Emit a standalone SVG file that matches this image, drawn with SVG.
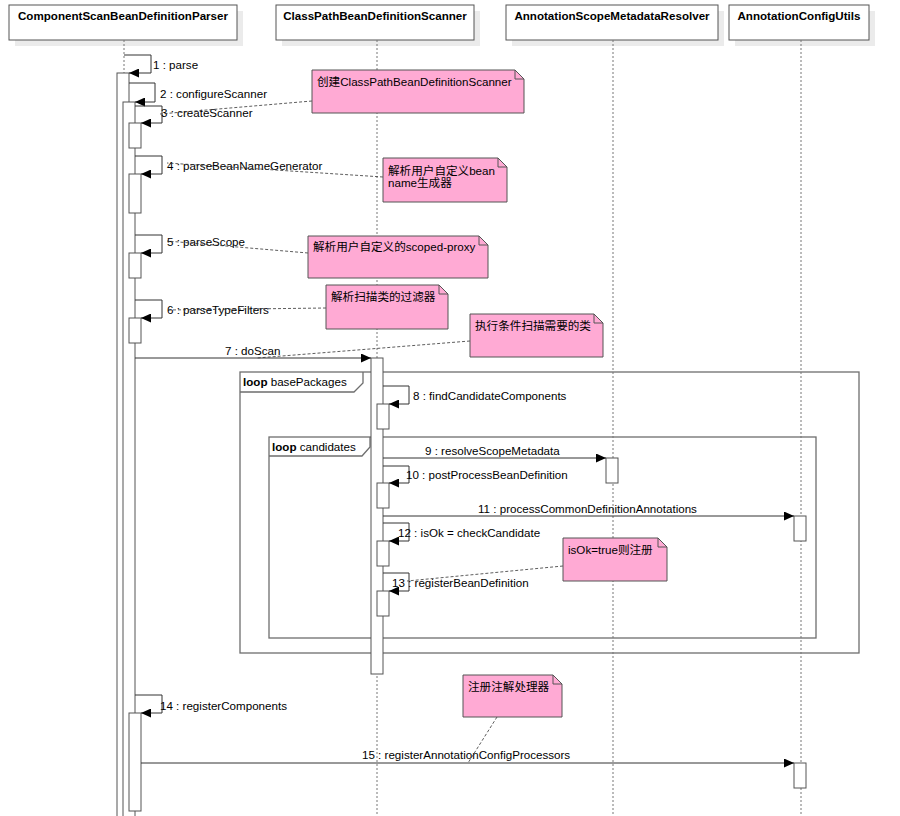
<svg xmlns="http://www.w3.org/2000/svg" width="900" height="816" viewBox="0 0 900 816">
<style>
text{font-family:"Liberation Sans",Arial,"Noto Sans CJK SC",sans-serif;font-size:11.6px;fill:#000}
.hd{font-weight:bold;text-anchor:middle}
.hbox{fill:#fff;stroke:#555;stroke-width:1}
.shadow{fill:#ebebeb}
.life{stroke:#777;stroke-width:1;stroke-dasharray:2,2;fill:none}
.bar{fill:#fff;stroke:#555;stroke-width:1}
.msg{fill:none;stroke:#333;stroke-width:1;marker-end:url(#ah)}
.frame{fill:none;stroke:#6e6e6e;stroke-width:1.3}
.note{fill:#ffaad4;stroke:#555;stroke-width:1}
.fold{fill:none;stroke:#555;stroke-width:1}
.nl{fill:none;stroke:#333;stroke-width:0.8;stroke-dasharray:3,2}
</style>
<defs>
<marker id="ah" markerUnits="userSpaceOnUse" markerWidth="10" markerHeight="9" refX="10" refY="4.5" orient="auto">
<path d="M0,0 L10,4.5 L0,9 z" fill="#000"/>
</marker>
</defs>
<rect width="900" height="816" fill="#fff"/>

<g id="frame-basePackages">
<rect class="frame" x="240" y="372" width="619" height="281"/>
<path class="frame" d="M240,392 H354 L363,383 V372"/>
<text x="243" y="386"><tspan font-weight="bold">loop</tspan> basePackages</text>
</g>
<g id="frame-candidates">
<rect class="frame" x="269" y="437" width="547" height="201"/>
<path class="frame" d="M269,456 H362 L370,447 V437"/>
<text x="272" y="451"><tspan font-weight="bold">loop</tspan> candidates</text>
</g>

<g id="ComponentScanBeanDefinitionParser">
<rect class="shadow" x="15" y="11" width="228" height="35"/>
<rect class="hbox" x="9" y="5" width="228" height="35"/>
<text class="hd" x="123" y="20">ComponentScanBeanDefinitionParser</text>
<line class="life" x1="124" y1="40" x2="124" y2="816"/>
<rect class="bar" x="117" y="73" width="12" height="750"/>
<rect class="bar" x="123" y="102" width="12" height="720"/>
<rect class="bar" x="129" y="123" width="12" height="25"/>
<rect class="bar" x="129" y="174" width="12" height="39"/>
<rect class="bar" x="129" y="253" width="12" height="25"/>
<rect class="bar" x="129" y="318" width="12" height="25"/>
<rect class="bar" x="129" y="713" width="12" height="98"/>
</g>

<g id="ClassPathBeanDefinitionScanner">
<rect class="shadow" x="282" y="11" width="198" height="35"/>
<rect class="hbox" x="276" y="5" width="198" height="35"/>
<text class="hd" x="375" y="20">ClassPathBeanDefinitionScanner</text>
<line class="life" x1="377" y1="40" x2="377" y2="816"/>
<rect class="bar" x="371" y="358" width="12" height="316"/>
<rect class="bar" x="377" y="404" width="12" height="25"/>
<rect class="bar" x="377" y="483" width="12" height="25"/>
<rect class="bar" x="377" y="541" width="12" height="25"/>
<rect class="bar" x="377" y="591" width="12" height="25"/>
</g>

<g id="AnnotationScopeMetadataResolver">
<rect class="shadow" x="512" y="11" width="212" height="35"/>
<rect class="hbox" x="506" y="5" width="212" height="35"/>
<text class="hd" x="612" y="20">AnnotationScopeMetadataResolver</text>
<line class="life" x1="613" y1="40" x2="613" y2="816"/>
<rect class="bar" x="606" y="458" width="12" height="25"/>
</g>

<g id="AnnotationConfigUtils">
<rect class="shadow" x="735" y="11" width="140" height="35"/>
<rect class="hbox" x="729" y="5" width="140" height="35"/>
<text class="hd" x="799" y="20">AnnotationConfigUtils</text>
<line class="life" x1="801" y1="40" x2="801" y2="816"/>
<rect class="bar" x="794" y="516" width="12" height="25"/>
<rect class="bar" x="794" y="763" width="12" height="25"/>
</g>

<g id="connectors">
<path class="msg" d="M124,55 H151 V73 H129"/>
<text x="153" y="69">1 : parse</text>
<path class="msg" d="M129,83 H155 V102 H135"/>
<text x="160" y="98">2 : configureScanner</text>
<path class="msg" d="M135,106 H162 V123 H141"/>
<text x="161" y="117">3 : createScanner</text>
<path class="msg" d="M135,156 H162 V174 H141"/>
<text x="167" y="170">4 : parseBeanNameGenerator</text>
<path class="msg" d="M135,235 H162 V253 H141"/>
<text x="167" y="246">5 : parseScope</text>
<path class="msg" d="M135,300 H162 V318 H141"/>
<text x="167" y="314">6 : parseTypeFilters</text>
<path class="msg" d="M135,358 H371"/>
<text x="225" y="355">7 : doScan</text>
<path class="msg" d="M383,386 H409 V404 H389"/>
<text x="413" y="400">8 : findCandidateComponents</text>
<path class="msg" d="M383,458 H606"/>
<text x="425" y="455">9 : resolveScopeMetadata</text>
<path class="msg" d="M383,466 H409 V483 H389"/>
<text x="406" y="479">10 : postProcessBeanDefinition</text>
<path class="msg" d="M383,516 H794"/>
<text x="478" y="513">11 : processCommonDefinitionAnnotations</text>
<path class="msg" d="M383,523 H409 V541 H389"/>
<text x="398" y="537">12 : isOk = checkCandidate</text>
<path class="msg" d="M383,573 H409 V591 H389"/>
<text x="392" y="587">13 : registerBeanDefinition</text>
<path class="msg" d="M135,695 H162 V713 H141"/>
<text x="160" y="710">14 : registerComponents</text>
<path class="msg" d="M141,763 H794"/>
<text x="362" y="759">15 : registerAnnotationConfigProcessors</text>

<line class="nl" x1="312" y1="101" x2="160" y2="114"/>
<line class="nl" x1="383" y1="177" x2="167" y2="163"/>
<line class="nl" x1="308" y1="253" x2="167" y2="241"/>
<line class="nl" x1="326" y1="308" x2="167" y2="310"/>
<line class="nl" x1="470" y1="341" x2="257" y2="358"/>
<line class="nl" x1="563" y1="566" x2="407" y2="581"/>
<line class="nl" x1="497" y1="717" x2="468" y2="763"/>
</g>

<g id="note-create">
<path class="note" d="M312,70 H515 L524,79 V113 H312 Z"/>
<path class="fold" d="M515,70 V79 H524"/>
<text x="317" y="86">创建ClassPathBeanDefinitionScanner</text>
</g>
<g id="note-beanname">
<path class="note" d="M383,158 H498 L507,167 V202 H383 Z"/>
<path class="fold" d="M498,158 V167 H507"/>
<text x="388" y="175">解析用户自定义bean</text>
<text x="388" y="187">name生成器</text>
</g>
<g id="note-scope">
<path class="note" d="M308,236 H479 L488,245 V278 H308 Z"/>
<path class="fold" d="M479,236 V245 H488"/>
<text x="313" y="251">解析用户自定义的scoped-proxy</text>
</g>
<g id="note-filters">
<path class="note" d="M326,285 H439 L448,294 V329 H326 Z"/>
<path class="fold" d="M439,285 V294 H448"/>
<text x="331" y="301">解析扫描类的过滤器</text>
</g>
<g id="note-doscan">
<path class="note" d="M470,314 H594 L603,323 V357 H470 Z"/>
<path class="fold" d="M594,314 V323 H603"/>
<text x="475" y="330">执行条件扫描需要的类</text>
</g>
<g id="note-isok">
<path class="note" d="M563,538 H658 L667,547 V581 H563 Z"/>
<path class="fold" d="M658,538 V547 H667"/>
<text x="568" y="554">isOk=true则注册</text>
</g>
<g id="note-register">
<path class="note" d="M463,675 H553 L562,684 V717 H463 Z"/>
<path class="fold" d="M553,675 V684 H562"/>
<text x="468" y="691">注册注解处理器</text>
</g>
</svg>
